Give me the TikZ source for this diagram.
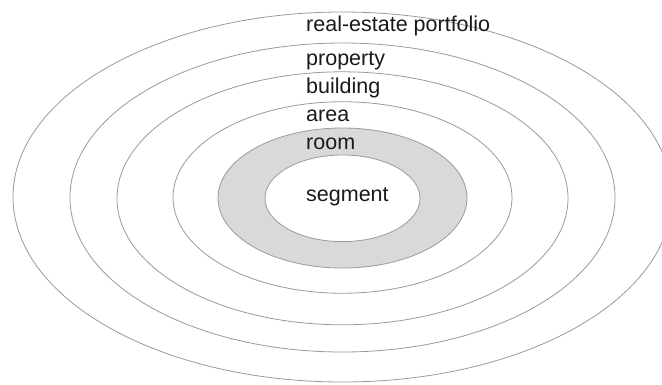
\documentclass[tikz,border=0pt]{standalone}
\usepackage{fontspec}
\setmainfont{Liberation Sans}
\usepackage{tikz}
\usetikzlibrary{shapes.geometric, positioning}
\definecolor{rLine}{HTML}{9A9A9A}
\definecolor{rFill}{HTML}{D9D9D9}
\definecolor{rInk}{HTML}{1A1A1A}
\tikzset{
  ring/.style={ellipse, draw=rLine, line width=0.8pt, fill=white, inner sep=0pt, outer sep=0pt},
  ringhot/.style={ring, fill=rFill},
  lvl/.style={anchor=base west, inner sep=0pt, font=\fontsize{21.5}{24}\selectfont, text=rInk},
}
\begin{document}
\begin{tikzpicture}[x=1pt, y=-1pt]
  \useasboundingbox (0,0) rectangle (662,384);
  \clip (0,0) rectangle (662,384);
  % nested levels, outer to inner
  \node[ring, minimum width=659pt, minimum height=370pt] (portfolio) at (342.5,197) {};
  \node[ring, minimum width=545pt, minimum height=309pt] (property) at (342.5,197.5) {};
  \node[ring, minimum width=451pt, minimum height=253pt] (building) at (342.5,198.3) {};
  \node[ring, minimum width=339pt, minimum height=191.5pt] (area) at (342.5,197.5) {};
  \node[ringhot, minimum width=249pt, minimum height=140pt] (room) at (342.5,198) {};
  \node[ring, minimum width=155pt, minimum height=86.6pt] (segment) at (342.5,198.3) {};
  % labels
  \node[lvl] (lportfolio) at (306,31.7) {real-estate portfolio};
  \node[lvl] (lproperty) at (306,65) {property};
  \node[lvl] (lbuilding) at (306,93) {building};
  \node[lvl] (larea) at (306,121.7) {area};
  \node[lvl] (lroom) at (306,149.3) {room};
  \node[lvl] (lsegment) at (306,201.7) {segment};
\end{tikzpicture}
\end{document}
